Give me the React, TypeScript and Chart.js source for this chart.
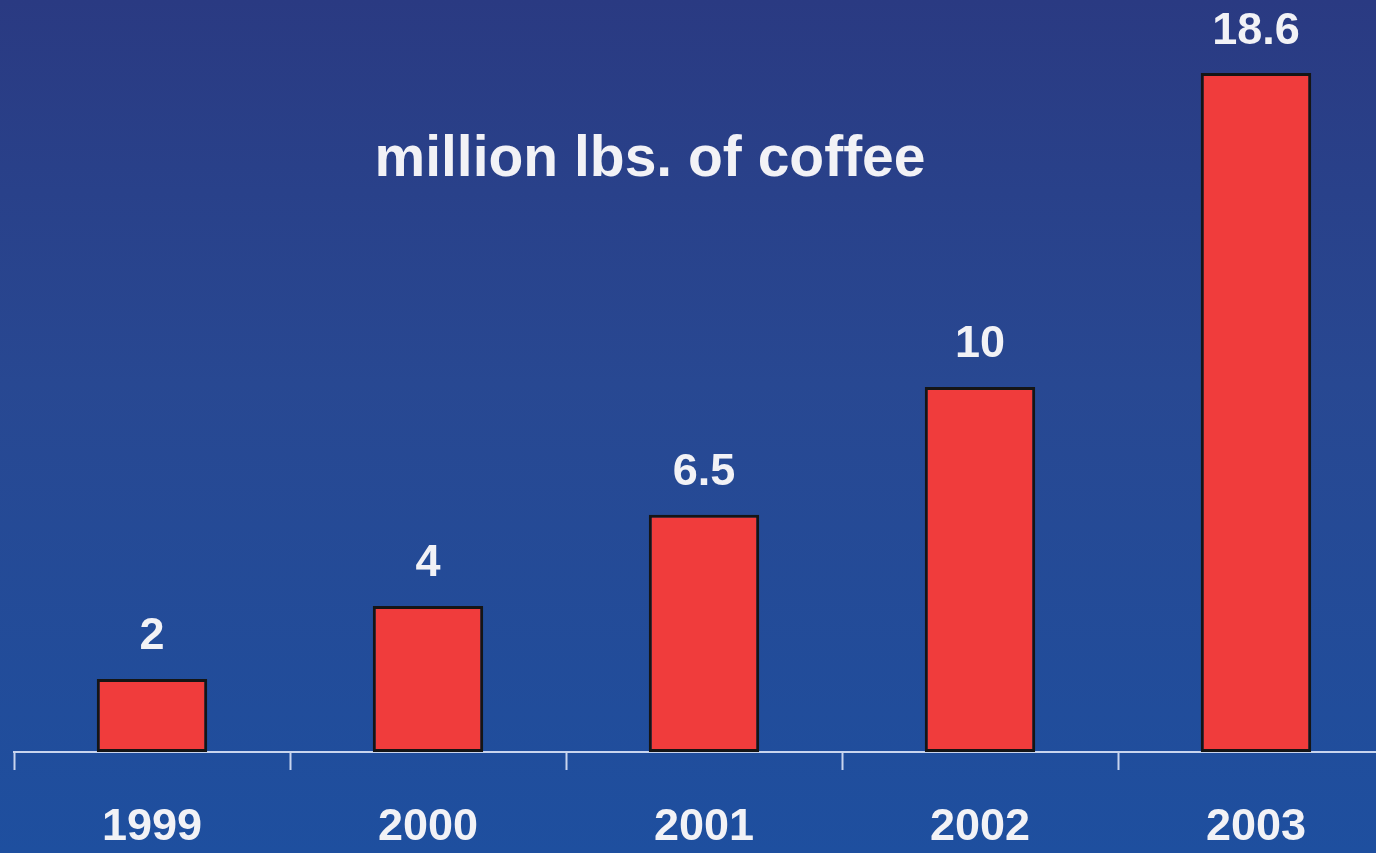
import React, { useEffect, useRef } from "react";
import { Chart, registerables } from "chart.js";

Chart.register(...registerables);

const years = ["1999", "2000", "2001", "2002", "2003"];
const coffeeMillionLbs = [2, 4, 6.5, 10, 18.6];
const valueLabels = ["2", "4", "6.5", "10", "18.6"];
const titleText = "million lbs. of coffee";

const FONT = "'Liberation Sans', Arial, Helvetica, sans-serif";

const overlayPlugin = {
  id: "overlayText",
  afterDatasetsDraw(chart: any) {
    const ctx = chart.ctx;
    const area = chart.chartArea;
    ctx.save();
    ctx.fillStyle = "#f2f2f6";
    ctx.textAlign = "center";
    ctx.textBaseline = "middle";
    ctx.font = `bold 45px ${FONT}`;
    const meta = chart.getDatasetMeta(0);
    meta.data.forEach((bar: any, i: number) => {
      ctx.fillText(valueLabels[i], bar.x, bar.y - 42);
    });
    ctx.font = `bold 57px ${FONT}`;
    ctx.fillText(titleText, area.left + 636, 160);
    ctx.restore();
  },
};

export default function App() {
  const ref = useRef<HTMLCanvasElement | null>(null);
  useEffect(() => {
    if (!ref.current) return;
    const chart = new Chart(ref.current, {
      type: "bar",
      data: {
        labels: years,
        datasets: [
          {
            data: coffeeMillionLbs,
            backgroundColor: "#f03c3c",
            borderColor: "#151515",
            borderWidth: 3,
            borderSkipped: false,
            categoryPercentage: 1,
            barPercentage: 0.4,
          },
        ],
      },
      options: {
        animation: false,
        responsive: false,
        maintainAspectRatio: false,
        devicePixelRatio: 1,
        layout: { padding: { top: 22, left: 14, right: 6, bottom: 0 } },
        plugins: {
          legend: { display: false },
          tooltip: { enabled: false },
          title: { display: false },
        },
        scales: {
          x: {
            offset: true,
            border: { display: true, color: "#c9d5ee", width: 2 },
            grid: {
              offset: true,
              drawOnChartArea: false,
              drawTicks: true,
              tickLength: 18,
              tickWidth: 2,
              tickColor: "#c9d5ee",
              color: "#c9d5ee",
            },
            ticks: {
              color: "#f2f2f6",
              padding: 31,
              maxRotation: 0,
              font: { family: FONT, size: 45, weight: "bold" },
            },
          },
          y: {
            display: false,
            min: 0,
            max: 20,
          },
        },
      },
      plugins: [overlayPlugin],
    });
    return () => chart.destroy();
  }, []);
  return (
    <div
      style={{
        position: "fixed",
        left: 0,
        top: 0,
        width: 1400,
        height: 853,
        background: "linear-gradient(180deg, #2a3a82 0%, #284892 45%, #1e4f9f 100%)",
        overflow: "hidden",
      }}
    >
      <canvas ref={ref} width={1400} height={886} style={{ display: "block", width: 1400, height: 886 }} />
    </div>
  );
}
